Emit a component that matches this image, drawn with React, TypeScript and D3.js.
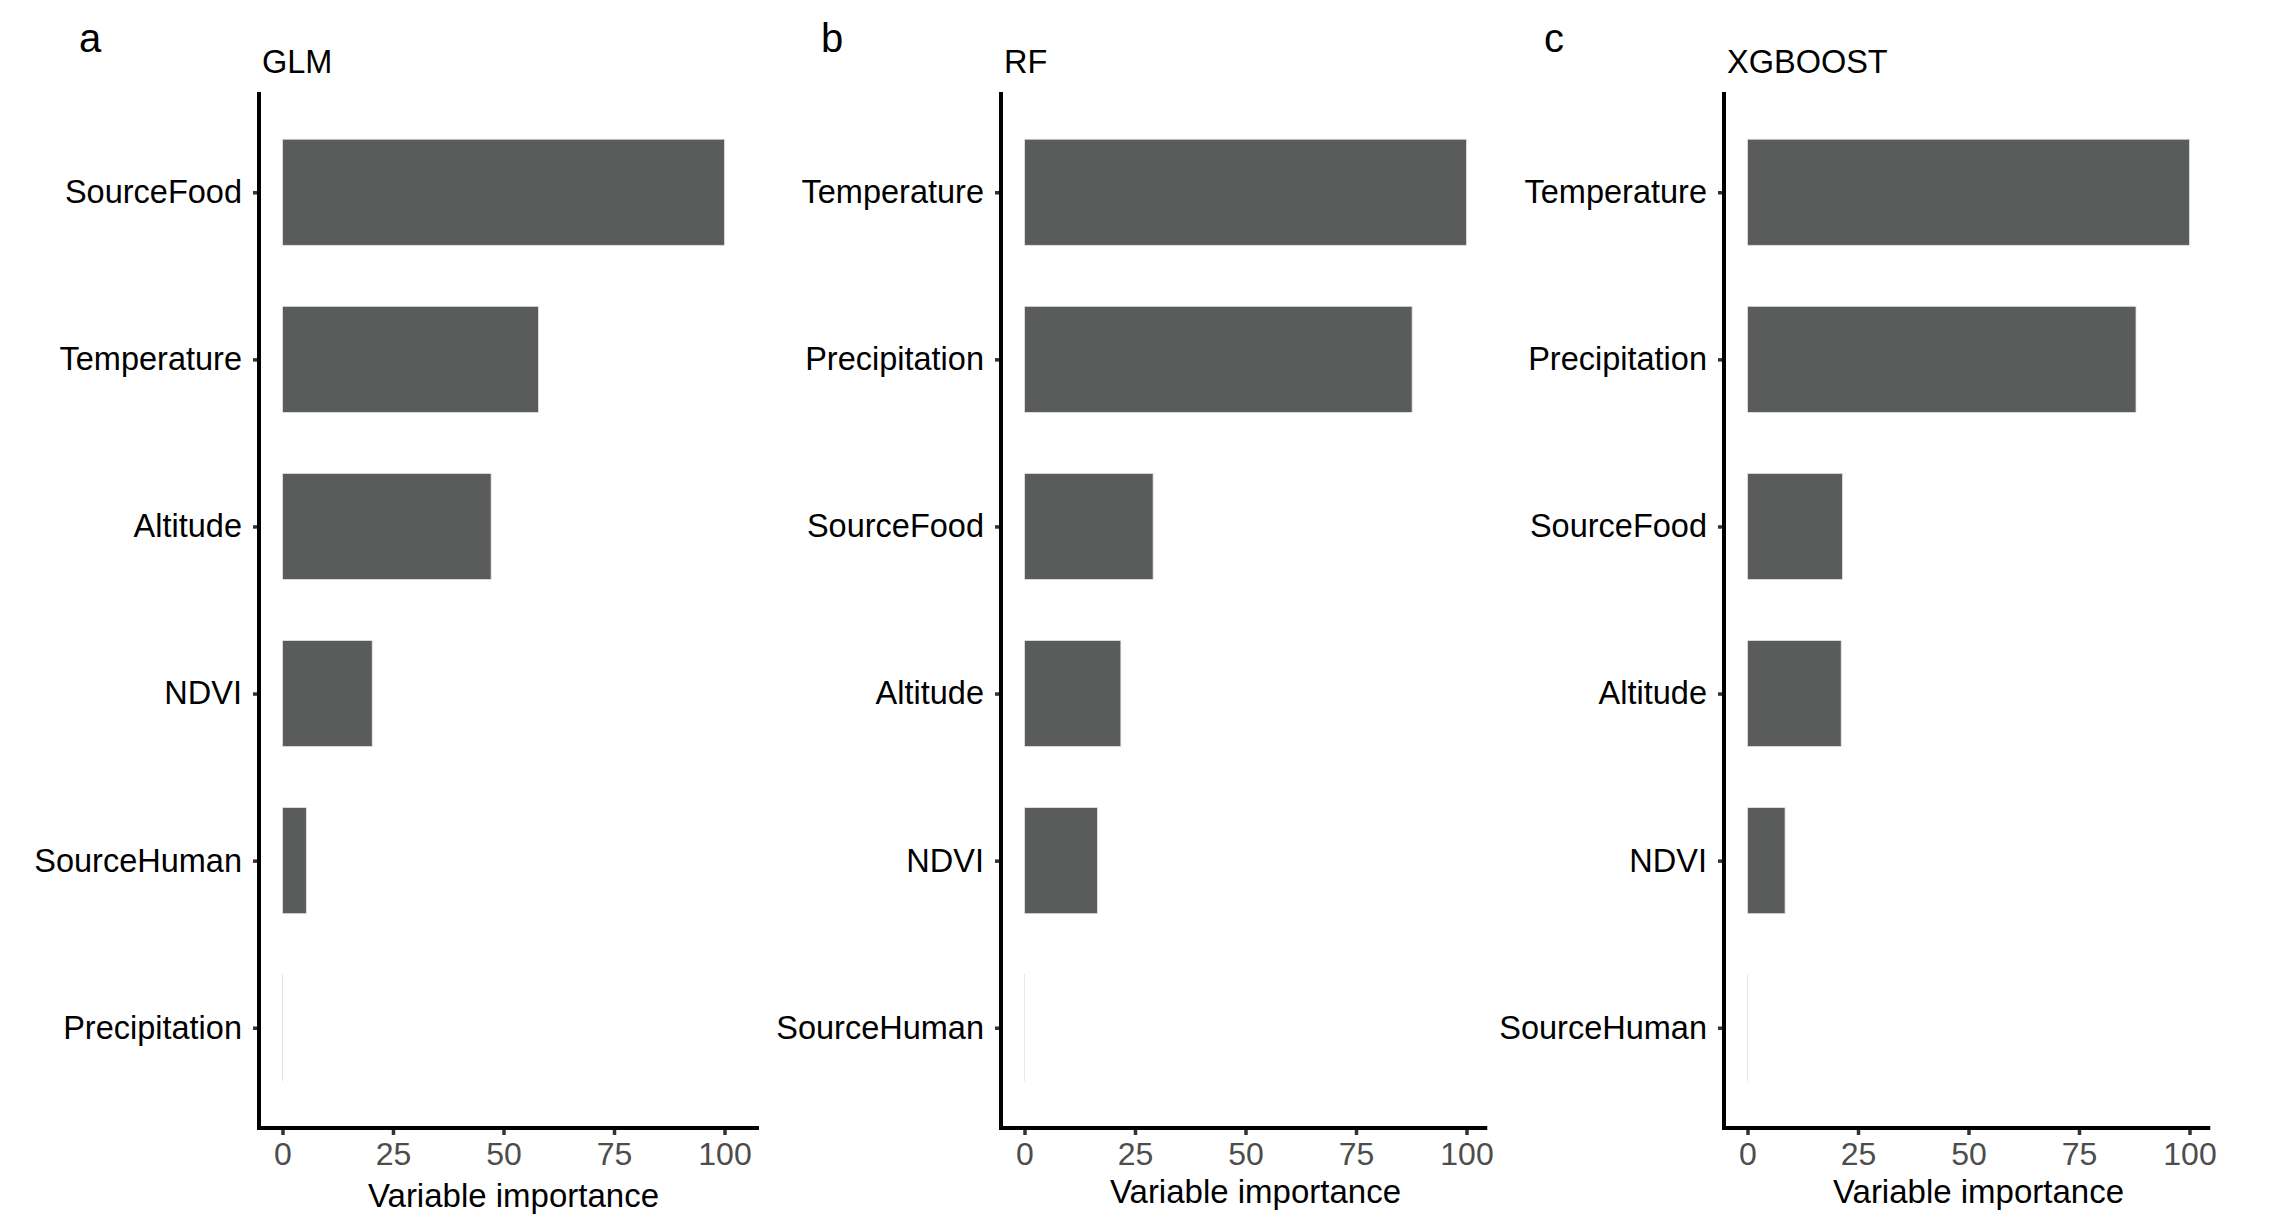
import * as React from "react";
import * as d3 from "d3";

// panel a - GLM
const glmVars = ["SourceFood", "Temperature", "Altitude", "NDVI", "SourceHuman", "Precipitation"];
const glmImportance = [100, 57.9, 47.2, 20.3, 5.4, 0];

// panel b - RF
const rfVars = ["Temperature", "Precipitation", "SourceFood", "Altitude", "NDVI", "SourceHuman"];
const rfImportance = [100, 87.7, 29.1, 21.8, 16.5, 0];

// panel c - XGBOOST
const xgbVars = ["Temperature", "Precipitation", "SourceFood", "Altitude", "NDVI", "SourceHuman"];
const xgbImportance = [100, 87.9, 21.5, 21.2, 8.5, 0];

const xTicks = [0, 25, 50, 75, 100];
const panelLetters = ["a", "b", "c"];
const panelTitles = ["GLM", "RF", "XGBOOST"];
const xTitle = "Variable importance";

const W = 2282;
const H = 1225;
const FONT = "'Liberation Sans', Arial, sans-serif";
const BAR = "#5a5c5b";

// layout of each panel (left edge of the y axis line and where the x axis stops)
const axisLeft = [259, 1001, 1724];
const axisMax = [107.8, 104.7, 104.7];
const titleBase = [1207, 1203, 1203];
const top = 92;
const bottom = 1128;

function drawChart(svgRef: React.RefObject<SVGSVGElement>) {
  const svg = d3.select(svgRef.current);
  svg.selectAll("*").remove();
  svg.attr("width", W).attr("height", H).style("background", "#fff");

  const panels = [
    { vars: glmVars, vals: glmImportance },
    { vars: rfVars, vals: rfImportance },
    { vars: xgbVars, vals: xgbImportance },
  ];

  panels.forEach((p, k) => {
    const ax = axisLeft[k];
    const g = svg.append("g").style("font-family", FONT);

    const x = d3.scaleLinear().domain([0, 100]).range([ax + 23.5, ax + 23.5 + 442]);
    const y = d3.scalePoint<string>().domain(p.vars).range([top, bottom]).padding(0.6);
    const bh = y.step() * 0.635;

    // bars
    g.selectAll(".bar")
      .data(p.vals)
      .join("rect")
      .attr("x", x(0))
      .attr("y", (_, i) => y(p.vars[i])! - bh / 2)
      .attr("width", (v) => Math.max(x(v) - x(0), 0.1))
      .attr("height", bh)
      .attr("fill", BAR)
      .attr("stroke", "#e4e4e4")
      .attr("stroke-width", 0.8);

    // y axis
    const yAxis = d3.axisLeft(y).tickSize(6).tickPadding(11);
    const yg = g.append("g").attr("transform", `translate(${ax},0)`).call(yAxis);
    yg.select(".domain").remove();
    yg.selectAll(".tick line").attr("stroke", "#333").attr("stroke-width", 3.5);
    yg.selectAll(".tick text")
      .attr("fill", "#000")
      .style("font-size", "32.5px")
      .style("font-family", FONT);

    // x axis
    const xAxis = d3.axisBottom(x).tickValues(xTicks).tickSize(7).tickPadding(7);
    const xg = g.append("g").attr("transform", `translate(0,${bottom})`).call(xAxis);
    xg.select(".domain").remove();
    xg.selectAll(".tick line").attr("stroke", "#333").attr("stroke-width", 3.5);
    xg.selectAll(".tick text")
      .attr("fill", "#4d4d4d")
      .style("font-size", "32px")
      .style("font-family", FONT);

    // axis lines
    g.append("line")
      .attr("x1", ax)
      .attr("x2", ax)
      .attr("y1", top)
      .attr("y2", bottom + 2)
      .attr("stroke", "#000")
      .attr("stroke-width", 4);
    g.append("line")
      .attr("x1", ax - 2)
      .attr("x2", x(axisMax[k]))
      .attr("y1", bottom)
      .attr("y2", bottom)
      .attr("stroke", "#000")
      .attr("stroke-width", 4);

    // labels
    g.append("text")
      .attr("x", x(50) + 10)
      .attr("y", titleBase[k])
      .attr("text-anchor", "middle")
      .style("font-size", "33px")
      .text(xTitle);
    g.append("text")
      .attr("x", ax + 3)
      .attr("y", 73)
      .style("font-size", "32.5px")
      .text(panelTitles[k]);
    g.append("text")
      .attr("x", ax - 180)
      .attr("y", 52)
      .style("font-size", "40px")
      .text(panelLetters[k]);
  });
}

const App: React.FunctionComponent = () => {
  const svg = React.useRef<SVGSVGElement>(null);
  React.useEffect(() => {
    drawChart(svg);
  }, [svg]);

  return (
    <div style={{ position: "absolute", left: 0, top: 0 }}>
      <svg ref={svg} style={{ display: "block" }} />
    </div>
  );
};

export default App;
